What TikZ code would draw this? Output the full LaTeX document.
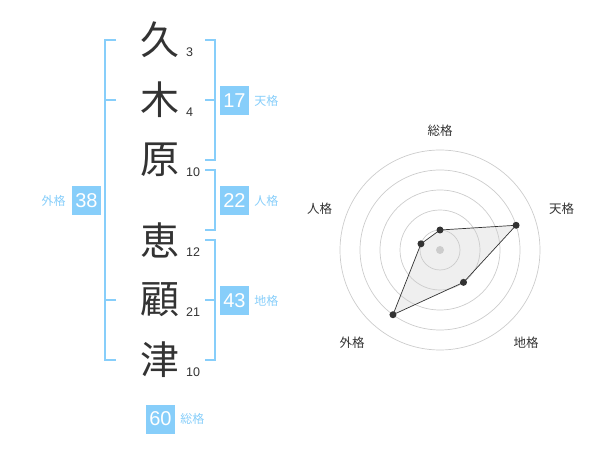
\documentclass[tikz,border=0pt]{standalone}
\usepackage{fontspec}
\setmainfont{Liberation Sans}
\newfontfamily\jpfont{Noto Sans CJK JP}
\usetikzlibrary{positioning}

\definecolor{kakublue}{HTML}{87CEFA}
\definecolor{inkgray}{HTML}{333333}
\definecolor{ringgray}{HTML}{CCCCCC}
\definecolor{areagray}{HTML}{EFEFEF}

\tikzset{
    kanji/.style={font=\jpfont\fontsize{39}{39}\selectfont, text=inkgray, inner sep=0pt},
    strokes/.style={font=\fontsize{12.5}{12.5}\selectfont, text=inkgray, anchor=west, inner sep=0pt},
    kakubox/.style={fill=kakublue, text=white, minimum size=29pt, inner sep=0pt, font=\fontsize{20}{20}\selectfont},
    kakuname/.style={font=\jpfont\fontsize{12}{12}\selectfont, text=kakublue, inner sep=0pt},
    bracket/.style={draw=kakublue, line width=2pt},
    axisname/.style={font=\jpfont\fontsize{12.5}{12.5}\selectfont, text=inkgray, inner sep=0pt},
    ring/.style={draw=ringgray, line width=0.7pt}
}

\begin{document}
\begin{tikzpicture}[x=1pt,y=-1pt]
    \useasboundingbox (0,0) rectangle (600,470);

    % Name characters with stroke counts
    \foreach \ch/\y/\n [count=\i] in {久/40/3, 木/100/4, 原/160/10, 恵/240/12, 顧/300/21, 津/360/10} {
        \node[kanji] (c\i) at (160,\y) {\ch};
        \node[strokes] (n\i) at (186,\y+12) {\n};
    }

    % Brackets
    \draw[bracket] (205,40) -- (215,40) -- (215,160) -- (205,160);
    \draw[bracket] (205,100) -- (215,100);
    \draw[bracket] (205,170) -- (215,170) -- (215,230) -- (205,230);
    \draw[bracket] (205,240) -- (215,240) -- (215,360) -- (205,360);
    \draw[bracket] (205,300) -- (215,300);
    \draw[bracket] (116,40) -- (105,40) -- (105,360) -- (116,360);
    \draw[bracket] (116,100) -- (105,100);
    \draw[bracket] (116,300) -- (105,300);

    % Scores
    \node[kakubox] (ten) at (234.5,100.5) {17};
    \node[kakuname, right=5pt of ten] (tenname) {天格};
    \node[kakubox] (jin) at (234.5,200.5) {22};
    \node[kakuname, right=5pt of jin] (jinname) {人格};
    \node[kakubox] (chi) at (234.5,300.5) {43};
    \node[kakuname, right=5pt of chi] (chiname) {地格};
    \node[kakubox] (gai) at (86.5,200.5) {38};
    \node[kakuname, left=6pt of gai] (gainame) {外格};
    \node[kakubox] (so) at (160.5,419) {60};
    \node[kakuname, right=5pt of so] (soname) {総格};

    % Radar chart
    \begin{scope}[shift={(440,250)}, y=1pt]
        \coordinate (pso) at (90:20);
        \coordinate (pten) at (18:80);
        \coordinate (pchi) at (-54:40);
        \coordinate (pgai) at (-126:80);
        \coordinate (pjin) at (162:20);
        \fill[areagray] (pso) -- (pten) -- (pchi) -- (pgai) -- (pjin) -- cycle;
        \foreach \r in {20,40,60,80,100} {
            \draw[ring] (0,0) circle[radius=\r];
        }
        \fill[ringgray] (0,0) circle[radius=4];
        \draw[inkgray, line width=0.7pt] (pso) -- (pten) -- (pchi) -- (pgai) -- (pjin) -- cycle;
        \foreach \p in {pso,pten,pchi,pgai,pjin} {
            \fill[inkgray] (\p) circle[radius=3.5];
        }
        \node[axisname] (aso) at (0,119.5) {総格};
        \node[axisname] (aten) at (121.5,41.5) {天格};
        \node[axisname] (achi) at (86,-92.5) {地格};
        \node[axisname] (agai) at (-88,-92.5) {外格};
        \node[axisname] (ajin) at (-120.5,41.5) {人格};
    \end{scope}
\end{tikzpicture}
\end{document}
